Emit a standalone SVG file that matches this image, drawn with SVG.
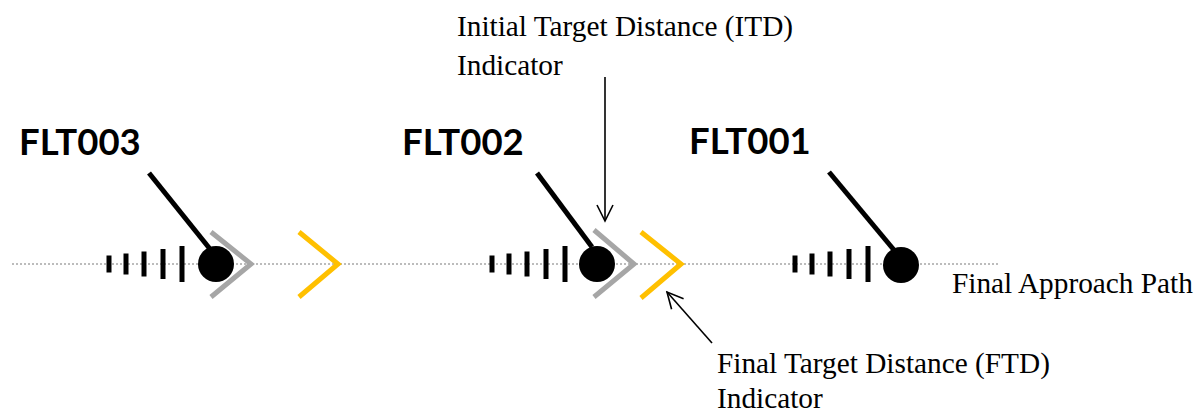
<svg xmlns="http://www.w3.org/2000/svg" width="1197" height="412" viewBox="0 0 1197 412">
  <defs>
    <style>
      .path { stroke: #a6a6a6; stroke-width: 1.6; stroke-dasharray: 2 2; fill: none; }
      .callsign { font-family: Lato, "Open Sans", "Liberation Sans", sans-serif; font-weight: 700; font-size: 36.5px; fill: #000; }
      .note { font-family: "Liberation Serif", "Times New Roman", serif; font-size: 29.3px; fill: #000; }
      .leader { stroke: #000; stroke-width: 5; stroke-linecap: butt; fill: none; }
      .tick { fill: #000; }
      .itd { stroke: #a6a6a6; stroke-width: 5; fill: none; }
      .ftd { stroke: #ffc000; stroke-width: 5; fill: none; }
      .conn { stroke: #000; stroke-width: 1.6; fill: none; }
    </style>
    <!-- history trail: five bars growing toward the aircraft -->
    <g id="trail">
      <rect class="tick" x="-2.5" y="-8.5" width="5" height="17"/>
      <rect class="tick" x="14.5" y="-10.5" width="5" height="21"/>
      <rect class="tick" x="32.5" y="-12.5" width="5" height="25"/>
      <rect class="tick" x="51.5" y="-15" width="5" height="30"/>
      <rect class="tick" x="70.5" y="-18" width="5" height="36"/>
    </g>
    <marker id="openArrow" viewBox="0 0 20 20" refX="18" refY="10" markerWidth="20" markerHeight="20" markerUnits="userSpaceOnUse" orient="auto">
      <path d="M2,2 L18,10 L2,18" fill="none" stroke="#000" stroke-width="1.6"/>
    </marker>
  </defs>

  <!-- final approach path centreline -->
  <line id="approach-path" class="path" x1="12" y1="264" x2="998" y2="264"/>

  <!-- FLT003 -->
  <g id="flt003">
    <use href="#trail" x="109" y="264"/>
    <line class="leader" x1="149" y1="173" x2="210" y2="249"/>
    <circle cx="216" cy="264" r="18" fill="#000"/>
    <text class="callsign" x="19" y="155">FLT003</text>
  </g>
  <g id="flt003-itd"><polyline class="itd" points="211,232 251,264 211,297"/></g>
  <g id="flt003-ftd"><polyline class="ftd" points="299,232 338,264 299,297"/></g>

  <!-- FLT002 -->
  <g id="flt002">
    <use href="#trail" x="492" y="264"/>
    <line class="leader" x1="537" y1="173" x2="592" y2="247"/>
    <circle cx="597" cy="264" r="18" fill="#000"/>
    <text class="callsign" x="402" y="155">FLT002</text>
  </g>
  <g id="flt002-itd"><polyline class="itd" points="594,230 634,264 594,297"/></g>
  <g id="flt002-ftd"><polyline class="ftd" points="641,232 681,264 641,298"/></g>

  <!-- FLT001 -->
  <g id="flt001">
    <use href="#trail" x="795" y="264"/>
    <line class="leader" x1="829" y1="172" x2="894" y2="250"/>
    <circle cx="901" cy="265" r="18" fill="#000"/>
    <text class="callsign" x="689" y="154">FLT001</text>
  </g>

  <!-- annotations -->
  <g id="itd-label">
    <text class="note" x="457" y="36">Initial Target Distance (ITD)</text>
    <text class="note" x="457" y="75">Indicator</text>
  </g>
  <g id="ftd-label">
    <text class="note" x="717" y="373">Final Target Distance (FTD)</text>
    <text class="note" x="717" y="408">Indicator</text>
  </g>
  <g id="path-label">
    <text class="note" x="952" y="293">Final Approach Path</text>
  </g>

  <!-- callout connectors -->
  <g id="connectors">
    <line class="conn" x1="605" y1="77" x2="605" y2="221" marker-end="url(#openArrow)"/>
    <line class="conn" x1="712" y1="343" x2="667" y2="292" marker-end="url(#openArrow)"/>
  </g>
</svg>
